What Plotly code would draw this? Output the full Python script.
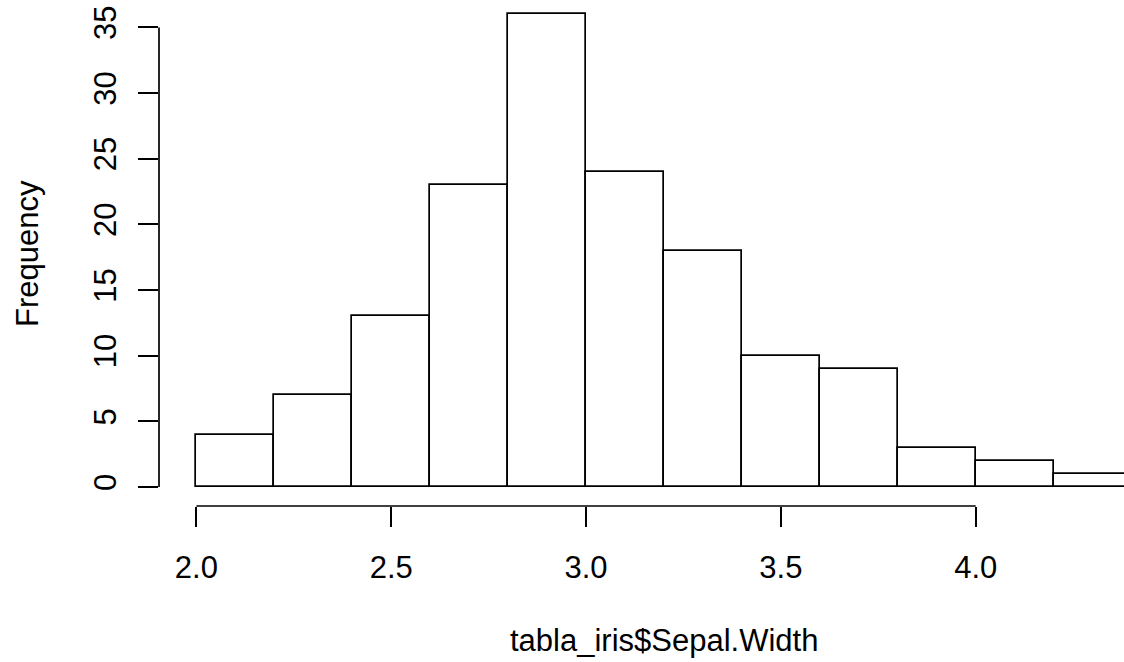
import plotly.graph_objects as go

# Histogram data (tabla_iris$Sepal.Width)
bin_left = [2.0, 2.2, 2.4, 2.6, 2.8, 3.0, 3.2, 3.4, 3.6, 3.8, 4.0, 4.2]
bin_width = 0.2
counts = [4, 7, 13, 23, 36, 24, 18, 10, 9, 3, 2, 1]
x_ticks = [2.0, 2.5, 3.0, 3.5, 4.0]
x_tick_labels = ["2.0", "2.5", "3.0", "3.5", "4.0"]
y_ticks = [0, 5, 10, 15, 20, 25, 30, 35]
y_tick_labels = ["0", "5", "10", "15", "20", "25", "30", "35"]
x_title = "tabla_iris$Sepal.Width"
y_title = "Frequency"

FONT = "Liberation Sans, Arial, Helvetica, sans-serif"
FS = 31
W, H = 1124, 662
ML, MB = 159, 156
px_per_x = 389.65
px_per_y = 13.134
LW = 1.7

x_lo = 1.904
x_hi = x_lo + (W - ML) / px_per_x
y_lo = -1.44
y_hi = y_lo + (H - MB) / px_per_y

centers = [b + bin_width / 2 for b in bin_left]

fig = go.Figure()
fig.add_trace(go.Bar(
    x=centers, y=counts, width=[bin_width] * len(counts),
    marker=dict(color="white", line=dict(color="black", width=LW)),
    hoverinfo="x+y", showlegend=False,
))

# axis lines spanning only tick range (R style)
fig.add_shape(type="line", xref="x", yref="paper", x0=x_ticks[0], x1=x_ticks[-1], y0=0, y1=0,
              line=dict(color="black", width=LW))
fig.add_shape(type="line", xref="paper", yref="y", x0=0, x1=0, y0=y_ticks[0], y1=y_ticks[-1],
              line=dict(color="black", width=LW))

fig.add_annotation(text=x_title, xref="x", yref="paper", x=(x_lo + (x_lo + (1169 - 159.3) / px_per_x)) / 2,
                   y=0, yanchor="middle", yshift=-(640 - 506), showarrow=False,
                   font=dict(family=FONT, size=FS, color="black"))
fig.add_annotation(text=y_title, xref="paper", yref="paper", x=0, y=(506 - 254) / 506,
                   xanchor="center", xshift=-(159 - 27), showarrow=False, textangle=-90,
                   font=dict(family=FONT, size=FS, color="black"))

fig.update_layout(
    width=W, height=H,
    margin=dict(l=ML, r=0, t=0, b=MB, pad=0),
    paper_bgcolor="white", plot_bgcolor="white",
    bargap=0,
    xaxis=dict(range=[x_lo, x_hi], tickvals=x_ticks, ticktext=x_tick_labels,
               ticks="outside", ticklen=20, tickwidth=LW, tickcolor="black",
               showline=False, showgrid=False, zeroline=False,
               ticklabelstandoff=14,
               tickfont=dict(family=FONT, size=FS, color="black")),
    yaxis=dict(range=[y_lo, y_hi], tickvals=y_ticks, ticktext=y_tick_labels,
               ticks="outside", ticklen=20, tickwidth=LW, tickcolor="black",
               showline=False, showgrid=False, zeroline=False,
               tickangle=-90, ticklabelstandoff=10,
               tickfont=dict(family=FONT, size=FS, color="black")),
)

fig.write_html("out.html", config={"displayModeBar": False},
               post_script="document.body.style.margin='0';document.body.style.overflow='hidden';")
